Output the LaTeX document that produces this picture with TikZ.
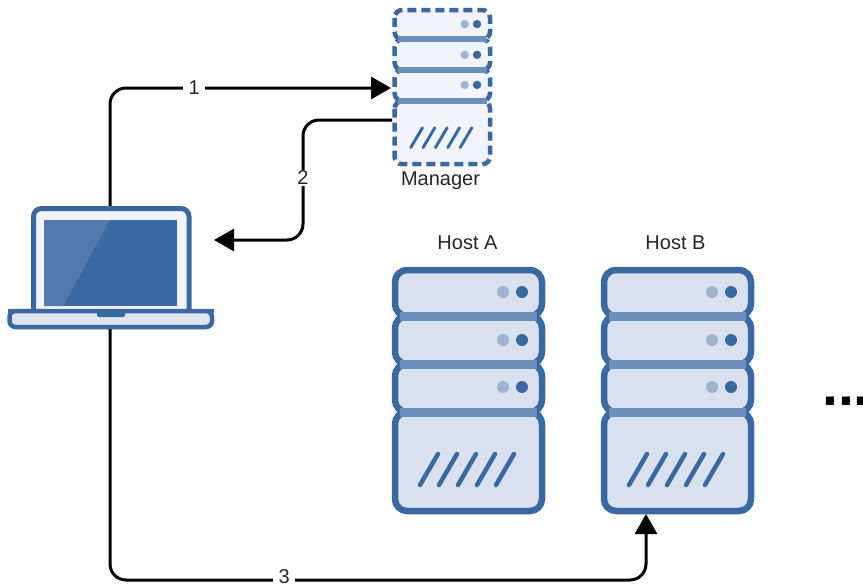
\documentclass[tikz,border=0pt]{standalone}
\usepackage{fontspec}
\setmainfont{Liberation Sans}
\usetikzlibrary{arrows.meta}
\definecolor{blu}{HTML}{3A68A3}
\definecolor{band}{HTML}{6B8FBA}
\definecolor{glare}{HTML}{5479AD}
\definecolor{hostfill}{HTML}{D9E1EE}
\definecolor{mgrfill}{HTML}{F0F3F9}
\definecolor{basefill}{HTML}{E0E6F0}
\definecolor{lightdot}{HTML}{9DB4D2}
\tikzset{
  x=1pt,y=-1pt,
  lbl/.style={font=\fontsize{20}{22}\selectfont,text=black!85,inner sep=0pt},
  numlbl/.style={lbl,sharp corners,fill=white,inner xsep=5.5pt,inner ysep=1pt},
  wire/.style={draw=black,line width=3pt,rounded corners=16pt,-{Triangle[length=20pt,width=22pt]}},
  anchorbox/.style={inner sep=0pt,minimum width=#1,draw=none},
}
% #1 left x, #2 top y, #3 xscale, #4 yscale, #5 fill, #6 outline options, #7 stroke width, #8 band width, #9 dot radius
\newcommand{\serverdraw}[9]{%
  \begin{scope}[shift={(#1,#2)},x=#3pt,y=-#4pt]
    \path[fill=#5,rounded corners=8pt] (0,0) rectangle (147,241);
    \foreach \ya/\yb in {0/46,46/94,94/142,142/241}
      \draw[blu,line width=#7pt,rounded corners=#3*12pt,#6] (0,\ya) rectangle (147,\yb);
    \foreach \yy in {46,94,142}
      \draw[band,line width=#8pt] (5,\yy) -- (142,\yy);
    \foreach \yy in {22,70,117}{
      \fill[lightdot] (108,\yy) circle (#9pt);
      \fill[blu] (127,\yy) circle (#9pt);
    }
    \foreach \k in {0,...,4}
      \draw[blu,line width=#3*4.5pt,line cap=round] (25+19*\k,215) -- (43+19*\k,184);
  \end{scope}}
\begin{document}
\begin{tikzpicture}[x=1pt,y=-1pt]
\useasboundingbox (0,0) rectangle (863,584);
\fill[white] (0,0) rectangle (863,584);

% servers
\serverdraw{395}{270}{1}{1}{hostfill}{}{6.5}{9}{6}
\serverdraw{604}{270}{1}{1}{hostfill}{}{6.5}{9}{6}
\serverdraw{394.5}{10}{0.65}{0.64}{mgrfill}{dash pattern=on 9pt off 5pt}{4.5}{6}{4.2}

% laptop
\draw[blu,line width=5pt,fill=mgrfill,rounded corners=8pt] (33.5,311) -- (33.5,208.5) -- (189,208.5) -- (189,311);
\fill[blu] (44,220) rectangle (177,306);
\fill[glare] (44,220) -- (110,220) -- (63,306) -- (44,306) -- cycle;
\draw[blu,line width=4.5pt,fill=basefill,rounded corners=6pt] (9.5,311) -- (212,311) -- (212,327) -- (9.5,327) -- cycle;
\draw[blu,line width=4.5pt] (7.5,311) -- (214,311);
\fill[blu,rounded corners=1.5pt] (97,311) -- (125,311) -- (125,317) -- (97,317) -- cycle;

% anchors
\node[anchorbox=207pt,minimum height=123pt] (laptop) at (110,267.5) {};
\node[anchorbox=100pt,minimum height=161pt] (manager) at (442,88) {};
\node[anchorbox=152pt,minimum height=247pt] (hostA) at (468,390.5) {};
\node[anchorbox=152pt,minimum height=247pt] (hostB) at (676.5,390.5) {};
\coordinate (in1) at (391,88);
\coordinate (out2) at (392,120);
\coordinate (end2) at (214,240);
\coordinate (hostBin) at (646,514);

% connectors
\draw[wire] (laptop.north) -- (110,88) -- node[numlbl,pos=0.3]{1} (in1);
\draw[wire] (out2) -- (303,120) -- node[numlbl,pos=0.48]{2} (303,240) -- (end2);
\draw[wire] (laptop.south) -- (110,580) -- node[numlbl,pos=0.325,yshift=3pt]{3} (646,580) -- (hostBin);

% labels
\node[lbl] (mlabel) at (440.5,181) {Manager};
\node[lbl] (alabel) at (467.5,243) {Host A};
\node[lbl] (blabel) at (675.5,243) {Host B};
\node[font=\fontsize{57}{57}\selectfont\bfseries,inner sep=0pt,anchor=base west] (more) at (822,405) {...};
\end{tikzpicture}
\end{document}
